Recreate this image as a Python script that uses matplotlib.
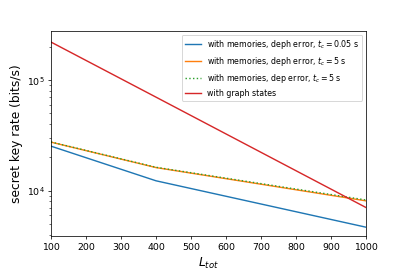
import matplotlib
matplotlib.use("Agg")
import matplotlib.pyplot as plt

L_tot = [100, 400, 1000]
rate_deph_005 = [25300, 12300, 4680]
rate_deph_5 = [27500, 16200, 8100]
rate_dep_5 = [27600, 16300, 8250]
L_graph = [100, 400, 1000]
rate_graph = [221000, 70200, 7050]

fig = plt.figure(figsize=(6, 4), dpi=407/6)
ax = fig.add_subplot(111)
fig.subplots_adjust(left=51/407, right=366/407, top=1-31/271, bottom=1-236/271)

ax.plot(L_tot, rate_deph_005, color='tab:blue', label=r'with memories, deph error, $t_c = 0.05$ s')
ax.plot(L_tot, rate_deph_5, color='tab:orange', label=r'with memories, deph error, $t_c = 5$ s')
ax.plot(L_tot, rate_dep_5, color='tab:green', linestyle=':', label=r'with memories, dep error, $t_c = 5$ s')
ax.plot(L_graph, rate_graph, color='tab:red', label='with graph states')

ax.set_yscale('log')
ax.set_xlim(100, 1000)
ax.set_ylim(3900, 2.8e5)
ax.set_xticks(range(100, 1001, 100))
ax.set_xlabel(r'$L_{tot}$', fontsize=13)
ax.set_ylabel('secret key rate (bits/s)', fontsize=13)
ax.legend(loc='upper right', fontsize='small')

fig.savefig('out.png', dpi=407/6)
